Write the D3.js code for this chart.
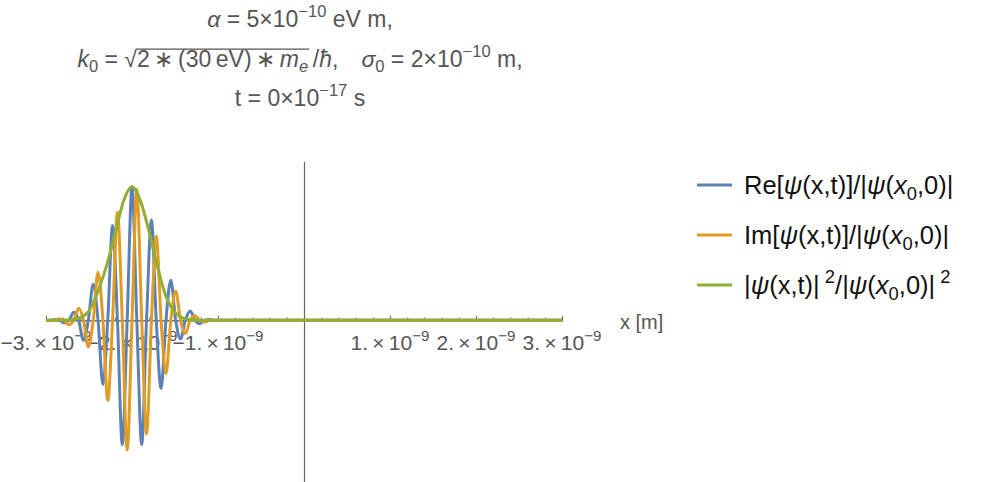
<!DOCTYPE html>
<html>
<head>
<meta charset="utf-8">
<script src="https://cdn.jsdelivr.net/npm/d3@7"></script>
<style>
  body { margin: 0; background: #fff; }
  text { font-family: "Liberation Sans", Arial, sans-serif; }
</style>
</head>
<body>
<div id="vis"></div>
<script>
// x values are in units of 1e-9 m
const majorTicks = [-3, -2, -1, 1, 2, 3];
const tickText = ["\u22123.", "\u22122.", "\u22121.", "1.", "2.", "3."];

// Re[psi]/|psi0| (extrema and zero crossings)
const reX = [-3.000, -2.959, -2.902, -2.846, -2.790, -2.733, -2.677, -2.620, -2.564, -2.508,
  -2.451, -2.395, -2.338, -2.282, -2.226, -2.169, -2.113, -2.056, -2.000, -1.944, -1.887,
  -1.831, -1.774, -1.718, -1.662, -1.605, -1.549, -1.492, -1.436, -1.380, -1.323, -1.267,
  -1.210, -1.154, -1.098, -1.041, 3.000];
const reY = [0, 0, 0.004, 0, -0.02, 0, 0.06, 0, -0.15, 0,
  0.27, 0, -0.48, 0, 0.71, 0, -0.93, 0, 1.00, 0, -0.93,
  0, 0.75, 0, -0.51, 0, 0.30, 0, -0.14, 0, 0.07, 0,
  -0.025, 0, 0.006, 0, 0];

// Im[psi]/|psi0|
const imX = [-3.000, -2.959, -2.902, -2.846, -2.790, -2.733, -2.677, -2.620, -2.564, -2.508,
  -2.451, -2.395, -2.338, -2.282, -2.226, -2.169, -2.113, -2.056, -2.000, -1.944, -1.887,
  -1.831, -1.774, -1.718, -1.662, -1.605, -1.549, -1.492, -1.436, -1.380, -1.323, -1.267,
  -1.210, -1.154, -1.098, -1.041, -0.985, 3.000];
const imY = [0, -0.003, 0, 0.011, 0, -0.035, 0, 0.09, 0, -0.20,
  0, 0.36, 0, -0.60, 0, 0.81, 0, -0.97, 0, 0.98, 0,
  -0.85, 0, 0.63, 0, -0.40, 0, 0.22, 0, -0.10, 0, 0.035,
  0, -0.012, 0, 0.003, 0, 0];

// |psi|^2/|psi0|^2
const absX = [-3.0, -2.9, -2.8, -2.7, -2.6, -2.5, -2.4, -2.3, -2.2, -2.1,
  -2.0, -1.9, -1.8, -1.7, -1.6, -1.5, -1.4, -1.3, -1.2, -1.1, 3.0];
const absY = [0, 0, 0.001, 0.005, 0.02, 0.07, 0.21, 0.40, 0.64, 0.89,
  1.0, 0.89, 0.66, 0.39, 0.17, 0.06, 0.015, 0.003, 0, 0, 0];

const colors = ["#5e81b5", "#e19c24", "#8fb032"];

const W = 984, H = 482;
const svg = d3.select("#vis").append("svg")
  .attr("width", W).attr("height", H)
  .attr("id", "main");

const xScale = d3.scaleLinear().domain([-3, 3]).range([46, 562]);
const yScale = d3.scaleLinear().domain([-1.21, 1.19]).range([482, 161.3]);

// write a list of runs into a text element, with sup/sub/italic handling
function runs(textSel, parts, size) {
  let shift = 0;
  parts.forEach(p => {
    let t = textSel.append("tspan").text(p.t);
    let target = 0;
    if (p.k == "sup") { target = -0.42 * size; t.attr("font-size", size * 0.72); }
    if (p.k == "sub") { target = 0.22 * size; t.attr("font-size", size * 0.72); }
    if (p.i) t.attr("font-style", "italic");
    if (p.cls) t.attr("class", p.cls);
    t.attr("dy", target - shift);
    shift = target;
  });
}

// axes
const axisColor = "#666";
const xAxisG = svg.append("g").attr("transform", "translate(0," + yScale(0) + ")");
xAxisG.call(d3.axisBottom(xScale).ticks(30).tickSizeInner(-2.8).tickSizeOuter(0).tickFormat(""));
xAxisG.append("g").call(d3.axisBottom(xScale).tickValues(majorTicks).tickSizeInner(-4.5).tickSizeOuter(0).tickFormat(""));
xAxisG.selectAll("path, line").attr("stroke", axisColor).attr("stroke-width", 1);

const yAxisG = svg.append("g").attr("transform", "translate(" + xScale(0) + ",0)");
yAxisG.call(d3.axisLeft(yScale).tickValues([]).tickSizeOuter(0));
yAxisG.selectAll("path").attr("stroke", axisColor).attr("stroke-width", 1.2);

// tick labels
const tickFont = 21;
majorTicks.forEach((v, i) => {
  let t = svg.append("text")
    .attr("x", xScale(v))
    .attr("y", 350)
    .attr("font-size", tickFont)
    .attr("fill", "#555")
    .attr("text-anchor", "middle");
  runs(t, [{t: tickText[i] + "\u2009\u00d7\u200910"}, {t: "\u22129", k: "sup"}], tickFont);
});

svg.append("text")
  .attr("x", 620).attr("y", 329)
  .attr("font-size", 20)
  .attr("fill", "#555")
  .text("x [m]");

// curves
const series = [[reX, reY], [imX, imY], [absX, absY]];
const line = d3.line()
  .x(d => xScale(d[0]))
  .y(d => yScale(d[1]))
  .curve(d3.curveMonotoneX);

series.forEach((s, i) => {
  let pts = s[0].map((v, j) => [v, s[1][j]]);
  svg.append("path")
    .attr("d", line(pts))
    .attr("fill", "none")
    .attr("stroke", colors[i])
    .attr("stroke-width", 3)
    .attr("stroke-linejoin", "round");
});

// title
const titleFont = 23;
const titleX = 300;
const t1 = svg.append("text").attr("x", titleX).attr("y", 27)
  .attr("font-size", titleFont).attr("fill", "#555").attr("text-anchor", "middle");
runs(t1, [{t: "\u03b1", i: true}, {t: " = 5\u00d710"}, {t: "\u221210", k: "sup"}, {t: " eV m,"}], titleFont);

const t2 = svg.append("text").attr("x", titleX).attr("y", 67)
  .attr("font-size", titleFont).attr("fill", "#555").attr("text-anchor", "middle");
runs(t2, [{t: "k", i: true}, {t: "0", k: "sub"}, {t: " = \u221a", cls: "rad"},
  {t: "2\u2009\u2217\u2009(30\u2009eV)\u2009\u2217\u2009", cls: "radicand"}, {t: "m", i: true},
  {t: "e", k: "sub", i: true, cls: "radEnd"}, {t: "\u2009/"}, {t: "\u0127", i: true},
  {t: ",\u2003"}, {t: "\u03c3", i: true}, {t: "0", k: "sub"}, {t: " = 2\u00d710"},
  {t: "\u221210", k: "sup"}, {t: " m,"}], titleFont);

// overline of the square root
const radicand = t2.select(".radicand").node();
const radEnd = t2.select(".radEnd").node();
const x0 = radicand.getStartPositionOfChar(0).x;
const endExt = radEnd.getExtentOfChar(0);
svg.append("line")
  .attr("x1", x0 - 1).attr("x2", endExt.x + endExt.width + 1)
  .attr("y1", 67 - titleFont * 0.78).attr("y2", 67 - titleFont * 0.78)
  .attr("stroke", "#555").attr("stroke-width", 1.2);

const t3 = svg.append("text").attr("x", titleX).attr("y", 106)
  .attr("font-size", titleFont).attr("fill", "#555").attr("text-anchor", "middle");
runs(t3, [{t: "t = 0\u00d710"}, {t: "\u221217", k: "sup"}, {t: " s"}], titleFont);

// legend
const legendFont = 25.5;
const psi = {t: "\u03c8", i: true};
const legendRows = [
  [{t: "Re["}, psi, {t: "(x,t)]/|"}, psi, {t: "("}, {t: "x", i: true}, {t: "0", k: "sub"}, {t: ",0)|"}],
  [{t: "Im["}, psi, {t: "(x,t)]/|"}, psi, {t: "("}, {t: "x", i: true}, {t: "0", k: "sub"}, {t: ",0)|"}],
  [{t: "|"}, psi, {t: "(x,t)|\u2009"}, {t: "2", k: "sup"}, {t: "/|"}, psi, {t: "("}, {t: "x", i: true},
    {t: "0", k: "sub"}, {t: ",0)|\u2009"}, {t: "2", k: "sup"}]
];
legendRows.forEach((r, i) => {
  let ly = 185 + i * 50;
  svg.append("line")
    .attr("x1", 697).attr("x2", 732)
    .attr("y1", ly).attr("y2", ly)
    .attr("stroke", colors[i]).attr("stroke-width", 3);
  let t = svg.append("text")
    .attr("x", 744).attr("y", ly + 9)
    .attr("font-size", legendFont)
    .attr("fill", "#111");
  runs(t, r, legendFont);
});
</script>
</body>
</html>
